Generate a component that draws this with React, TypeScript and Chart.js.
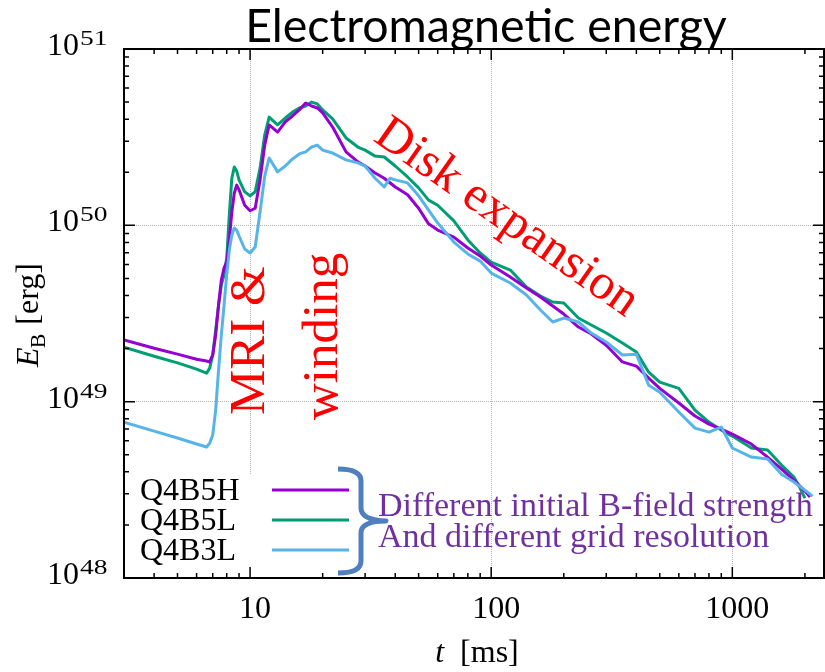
import React, { useEffect, useRef } from 'react';
import { Chart, registerables } from 'chart.js';

Chart.register(...registerables);

// ---------- text ----------
const TITLE = 'Electromagnetic energy';
const X_TITLE_VAR = 't';
const X_TITLE_UNIT = '[ms]';
const Y_TITLE_VAR = 'E';
const Y_TITLE_SUB = 'B';
const Y_TITLE_UNIT = '[erg]';
const NOTE_MRI = 'MRI &';
const NOTE_WINDING = 'winding';
const NOTE_DISK = 'Disk expansion';
const NOTE_LINE1 = 'Different initial B-field strength';
const NOTE_LINE2 = 'And different grid resolution';

// ---------- axes ----------
const X_MIN = 3;
const X_MAX = 2400;
const Y_MIN = 1e48;
const Y_MAX = 1e51;
const X_MAJOR = [10, 100, 1000];
const X_TICK_LABELS = ['10', '100', '1000'];
const Y_MAJOR = [1e48, 1e49, 1e50, 1e51];
const Y_TICK_BASE = '10';
const Y_TICK_EXP = ['48', '49', '50', '51'];

// ---------- series ----------
const SERIES_NAMES = ['Q4B5H', 'Q4B5L', 'Q4B3L'];
const SERIES_COLORS = ['#9400d3', '#009e73', '#56b4e9'];

const tQ4B5H = [3, 4, 5, 6, 6.6, 6.8, 7.0, 7.2, 7.4, 7.6, 7.8, 8.0, 8.2, 8.4, 8.6, 8.8, 9.0, 9.5, 10, 10.5, 11, 11.5, 12, 13, 14, 15, 16, 17, 18, 19, 20, 22, 25, 28, 30, 33, 36, 40, 45, 50, 55, 60, 70, 80, 90, 100, 120, 140, 160, 180, 200, 230, 260, 300, 350, 400, 450, 500, 600, 700, 800, 900, 1000, 1200, 1400, 1600, 1800, 2000, 2100];
const eQ4B5H = [2.24e49, 2.01e49, 1.86e49, 1.74e49, 1.70e49, 1.68e49, 1.84e49, 2.39e49, 3.53e49, 4.90e49, 5.73e49, 6.19e49, 8.26e49, 1.19e50, 1.52e50, 1.69e50, 1.59e50, 1.30e50, 1.21e50, 1.25e50, 1.81e50, 2.85e50, 3.71e50, 3.38e50, 3.86e50, 4.17e50, 4.51e50, 4.94e50, 4.75e50, 4.63e50, 4.34e50, 3.61e50, 2.61e50, 2.29e50, 2.17e50, 1.98e50, 1.85e50, 1.65e50, 1.49e50, 1.25e50, 1.02e50, 9.40e49, 8.58e49, 7.44e49, 6.70e49, 5.96e49, 5.09e49, 4.41e49, 3.92e49, 3.49e49, 3.14e49, 2.65e49, 2.42e49, 2.09e49, 1.68e49, 1.59e49, 1.36e49, 1.19e49, 9.82e48, 8.29e48, 7.46e48, 6.99e48, 6.55e48, 5.75e48, 4.85e48, 4.15e48, 3.59e48, 3.11e48, 2.88e48];

const tQ4B5L = [3, 4, 5, 6, 6.6, 6.8, 7.0, 7.2, 7.4, 7.6, 7.8, 8.0, 8.2, 8.4, 8.6, 8.8, 9.0, 9.5, 10, 10.5, 11, 11.5, 12, 13, 14, 15, 16, 17, 18, 19, 20, 22, 25, 28, 30, 33, 36, 40, 45, 50, 55, 60, 70, 80, 90, 100, 120, 140, 160, 180, 200, 230, 260, 300, 350, 400, 450, 500, 600, 700, 800, 900, 1000, 1200, 1400, 1600, 1800, 1900, 2000];
const eQ4B5L = [2.04e49, 1.81e49, 1.66e49, 1.53e49, 1.45e49, 1.55e49, 1.84e49, 2.55e49, 3.53e49, 4.59e49, 5.23e49, 6.53e49, 1.14e50, 1.85e50, 2.14e50, 2.03e50, 1.81e50, 1.55e50, 1.47e50, 1.55e50, 2.11e50, 3.25e50, 4.11e50, 3.71e50, 4.06e50, 4.39e50, 4.63e50, 4.75e50, 5.00e50, 4.88e50, 4.51e50, 4.01e50, 3.13e50, 2.78e50, 2.67e50, 2.47e50, 2.44e50, 2.17e50, 1.88e50, 1.63e50, 1.39e50, 1.30e50, 1.06e50, 8.26e49, 6.97e49, 6.19e49, 5.58e49, 4.47e49, 3.97e49, 3.67e49, 3.63e49, 2.98e49, 2.72e49, 2.45e49, 2.15e49, 1.91e49, 1.47e49, 1.29e49, 1.19e49, 8.96e48, 7.66e48, 6.90e48, 6.38e48, 5.46e48, 5.32e48, 4.37e48, 3.74e48, 3.28e48, 2.84e48];

const tQ4B3L = [3, 4, 5, 6, 6.6, 6.8, 7.0, 7.2, 7.4, 7.6, 7.8, 8.0, 8.2, 8.4, 8.6, 8.8, 9.0, 9.5, 10, 10.5, 11, 11.5, 12, 13, 14, 15, 16, 17, 18, 19, 20, 22, 25, 28, 30, 33, 36, 38, 40, 45, 50, 55, 60, 70, 80, 90, 100, 120, 140, 160, 180, 200, 230, 260, 300, 350, 400, 450, 500, 600, 700, 800, 900, 1000, 1200, 1400, 1600, 1800, 2000, 2150];
const eQ4B3L = [7.66e48, 6.81e48, 6.22e48, 5.75e48, 5.53e48, 5.82e48, 6.47e48, 8.96e48, 1.51e49, 2.39e49, 3.53e49, 5.23e49, 7.24e49, 8.81e49, 9.65e49, 9.40e49, 8.70e49, 7.34e49, 6.97e49, 7.53e49, 1.19e50, 1.90e50, 2.41e50, 2.01e50, 2.17e50, 2.38e50, 2.54e50, 2.61e50, 2.78e50, 2.85e50, 2.67e50, 2.57e50, 2.35e50, 2.26e50, 2.17e50, 1.85e50, 1.65e50, 1.85e50, 1.81e50, 1.74e50, 1.47e50, 1.22e50, 1.03e50, 8.04e49, 6.88e49, 6.27e49, 5.36e49, 4.71e49, 4.03e49, 3.31e49, 2.83e49, 2.98e49, 2.83e49, 2.45e49, 2.18e49, 1.84e49, 1.86e49, 1.24e49, 1.13e49, 8.73e48, 7.08e48, 6.72e48, 7.18e48, 5.46e48, 4.85e48, 4.73e48, 3.88e48, 3.50e48, 3.15e48, 2.91e48];

const SERIES_T = [tQ4B5H, tQ4B5L, tQ4B3L];
const SERIES_E = [eQ4B5H, eQ4B5L, eQ4B3L];
const SERIES_ORDER = [1, 2, 0];

const SERIF = '"Liberation Serif", "Times New Roman", serif';

const overlayPlugin = {
  id: 'overlay',
  afterDatasetsDraw(chart: any) {
    const ctx: CanvasRenderingContext2D = chart.ctx;
    const { left, right, top, bottom } = chart.chartArea;
    const xs = chart.scales.x;
    const ys = chart.scales.y;
    ctx.save();

    // opaque legend box
    ctx.fillStyle = '#ffffff';
    ctx.fillRect(left + 2, 474, 232, bottom - 474 - 1);

    // legend
    ctx.font = `32px ${SERIF}`;
    ctx.textAlign = 'left';
    ctx.textBaseline = 'alphabetic';
    SERIES_NAMES.forEach((name, i) => {
      const yb = 500 + i * 30;
      ctx.fillStyle = '#000';
      ctx.fillText(name, 140, yb);
      ctx.strokeStyle = SERIES_COLORS[i];
      ctx.lineWidth = 3;
      ctx.beginPath();
      ctx.moveTo(272, yb - 10);
      ctx.lineTo(349, yb - 10);
      ctx.stroke();
    });

    // frame
    ctx.strokeStyle = '#000';
    ctx.lineWidth = 2;
    ctx.strokeRect(left, top, right - left, bottom - top);

    // ticks
    ctx.lineWidth = 1.5;
    const xMinor: number[] = [];
    [1, 10, 100, 1000].forEach((d) => {
      for (let m = 2; m <= 9; m++) {
        const v = m * d;
        if (v >= X_MIN && v <= X_MAX) xMinor.push(v);
      }
    });
    const yMinor: number[] = [];
    [1e48, 1e49, 1e50].forEach((d) => {
      for (let m = 2; m <= 9; m++) yMinor.push(m * d);
    });
    const tickX = (v: number, len: number) => {
      const x = xs.getPixelForValue(v);
      ctx.beginPath();
      ctx.moveTo(x, bottom);
      ctx.lineTo(x, bottom - len);
      ctx.moveTo(x, top);
      ctx.lineTo(x, top + len);
      ctx.stroke();
    };
    const tickY = (v: number, len: number) => {
      const y = ys.getPixelForValue(v);
      ctx.beginPath();
      ctx.moveTo(left, y);
      ctx.lineTo(left + len, y);
      ctx.moveTo(right, y);
      ctx.lineTo(right - len, y);
      ctx.stroke();
    };
    xMinor.forEach((v) => tickX(v, 5));
    X_MAJOR.forEach((v) => tickX(v, 11));
    yMinor.forEach((v) => tickY(v, 5));
    Y_MAJOR.forEach((v) => tickY(v, 11));

    // tick labels
    ctx.fillStyle = '#000';
    ctx.font = `32px ${SERIF}`;
    ctx.textAlign = 'center';
    X_MAJOR.forEach((v, i) => {
      ctx.fillText(X_TICK_LABELS[i], xs.getPixelForValue(v) + 5, 618);
    });
    Y_MAJOR.forEach((v, i) => {
      const y = ys.getPixelForValue(v);
      ctx.font = `32px ${SERIF}`;
      ctx.textAlign = 'right';
      ctx.fillText(Y_TICK_BASE, 79, y + 6);
      ctx.save();
      ctx.translate(80, y - 4);
      ctx.scale(1.25, 1);
      ctx.font = `22px ${SERIF}`;
      ctx.textAlign = 'left';
      ctx.fillText(Y_TICK_EXP[i], 0, 0);
      ctx.restore();
    });

    // x title
    ctx.textAlign = 'left';
    ctx.font = `italic 32px ${SERIF}`;
    const wt = ctx.measureText(X_TITLE_VAR).width;
    ctx.font = `32px ${SERIF}`;
    const wu = ctx.measureText('  ' + X_TITLE_UNIT).width;
    const x0 = 477 - (wt + wu) / 2;
    ctx.font = `italic 32px ${SERIF}`;
    ctx.fillText(X_TITLE_VAR, x0, 662);
    ctx.font = `32px ${SERIF}`;
    ctx.fillText('  ' + X_TITLE_UNIT, x0 + wt, 662);

    // y title
    ctx.font = `italic 32px ${SERIF}`;
    const we = ctx.measureText(Y_TITLE_VAR).width;
    ctx.font = `22px ${SERIF}`;
    const wb = ctx.measureText(Y_TITLE_SUB).width;
    ctx.font = `32px ${SERIF}`;
    const wr = ctx.measureText(' ' + Y_TITLE_UNIT).width;
    const total = we + wb + wr;
    ctx.save();
    ctx.translate(38, 315 + total / 2);
    ctx.rotate(-Math.PI / 2);
    ctx.font = `italic 32px ${SERIF}`;
    ctx.fillText(Y_TITLE_VAR, 0, 0);
    ctx.font = `22px ${SERIF}`;
    ctx.fillText(Y_TITLE_SUB, we - 1, 7);
    ctx.font = `32px ${SERIF}`;
    ctx.fillText(' ' + Y_TITLE_UNIT, we + wb, 0);
    ctx.restore();

    // title
    ctx.font = '100px Lato, "Open Sans", sans-serif';
    const w100 = ctx.measureText(TITLE).width;
    const ts = (100 * 482) / w100;
    ctx.font = `${ts.toFixed(1)}px Lato, "Open Sans", sans-serif`;
    ctx.textAlign = 'center';
    ctx.fillText(TITLE, 486, 42);

    // red annotations
    ctx.fillStyle = '#ff0000';
    ctx.font = `51px ${SERIF}`;
    ctx.textAlign = 'left';
    ctx.save();
    ctx.translate(264, 415);
    ctx.rotate(-Math.PI / 2);
    ctx.fillText(NOTE_MRI, 0, 0);
    ctx.restore();
    ctx.save();
    ctx.translate(337, 420);
    ctx.rotate(-Math.PI / 2);
    ctx.fillText(NOTE_WINDING, 0, 0);
    ctx.restore();
    ctx.save();
    ctx.translate(372, 140);
    ctx.rotate((35 * Math.PI) / 180);
    ctx.font = `50px ${SERIF}`;
    ctx.fillText(NOTE_DISK, 0, 0);
    ctx.restore();

    // brace
    ctx.strokeStyle = '#4f7fbf';
    ctx.lineWidth = 5;
    ctx.lineJoin = 'round';
    ctx.beginPath();
    ctx.moveTo(338, 469);
    ctx.quadraticCurveTo(361, 469, 361, 481);
    ctx.lineTo(361, 508);
    ctx.quadraticCurveTo(361, 520, 386, 521);
    ctx.quadraticCurveTo(361, 521, 361, 533);
    ctx.lineTo(361, 561);
    ctx.quadraticCurveTo(361, 573, 338, 573);
    ctx.stroke();

    // purple note
    ctx.fillStyle = '#7030a0';
    ctx.font = `34px ${SERIF}`;
    ctx.fillText(NOTE_LINE1, 378, 516);
    ctx.fillText(NOTE_LINE2, 378, 547);

    ctx.restore();
  },
};

export default function App() {
  const ref = useRef<HTMLCanvasElement | null>(null);
  useEffect(() => {
    if (!ref.current) return;
    const datasets = SERIES_NAMES.map((name, i) => ({
      label: name,
      data: SERIES_T[i].map((t, k) => ({ x: t, y: SERIES_E[i][k] })),
      borderColor: SERIES_COLORS[i],
      backgroundColor: SERIES_COLORS[i],
      borderWidth: 3,
      pointRadius: 0,
      tension: 0,
      fill: false,
      order: SERIES_ORDER[i],
      borderJoinStyle: 'round' as const,
    }));
    const chart = new Chart(ref.current, {
      type: 'line',
      data: { datasets },
      options: {
        responsive: false,
        maintainAspectRatio: false,
        devicePixelRatio: 1,
        animation: false,
        layout: { padding: { top: 49, right: 1, left: 0, bottom: 0 } },
        plugins: { legend: { display: false }, tooltip: { enabled: false }, title: { display: false } },
        scales: {
          x: {
            type: 'logarithmic',
            min: X_MIN,
            max: X_MAX,
            ticks: { display: false },
            grid: { color: '#b4b4b4', lineWidth: 1, drawTicks: false },
            border: { display: false, dash: [1, 1] },
            afterBuildTicks: (s: any) => {
              s.ticks = X_MAJOR.map((v) => ({ value: v }));
            },
            afterFit: (s: any) => {
              s.height = 94;
            },
          },
          y: {
            type: 'logarithmic',
            min: Y_MIN,
            max: Y_MAX,
            ticks: { display: false },
            grid: { color: '#b4b4b4', lineWidth: 1, drawTicks: false },
            border: { display: false, dash: [1, 1] },
            afterBuildTicks: (s: any) => {
              s.ticks = Y_MAJOR.map((v) => ({ value: v }));
            },
            afterFit: (s: any) => {
              s.width = 124;
            },
          },
        },
      } as any,
      plugins: [overlayPlugin],
    });
    return () => chart.destroy();
  }, []);
  return (
    <div style={{ position: 'fixed', left: 0, top: 0, width: 825, height: 672, background: '#fff' }}>
      <canvas ref={ref} width={825} height={672} style={{ width: 825, height: 672, display: 'block' }} />
    </div>
  );
}
